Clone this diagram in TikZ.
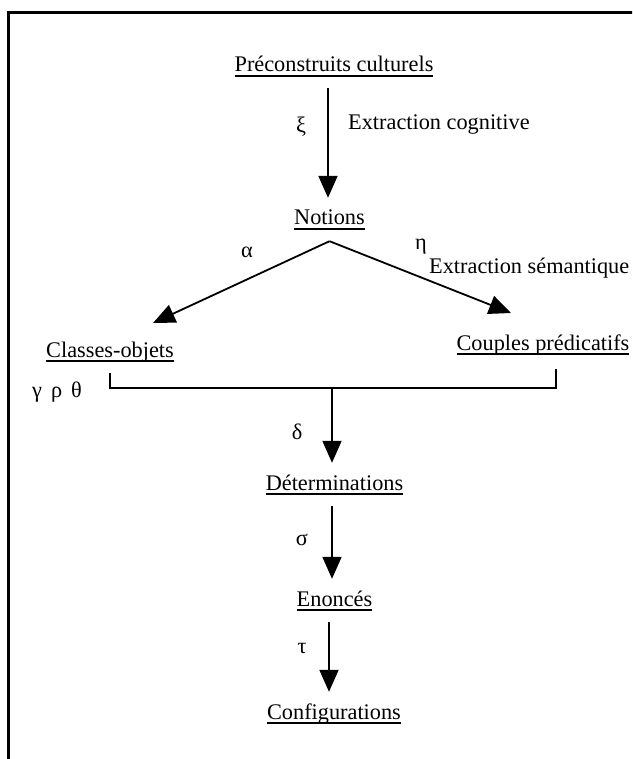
\documentclass[tikz,border=0pt]{standalone}
\usepackage{fontspec}
\setmainfont{Liberation Serif}
\usetikzlibrary{arrows.meta}
% word-processor style underline: a rule a little below the baseline
\newcommand\ulword[1]{\setbox0=\hbox{#1}\rlap{\rule[-4.6pt]{\wd0}{1.9pt}}\box0}

\begin{document}
\begin{tikzpicture}[x=1pt, y=1pt,
  font=\fontsize{22.3}{26}\selectfont,
  concept/.style={anchor=base, inner xsep=0pt, inner ysep=12pt,
                  text height=15pt, text depth=4pt},
  tag/.style={inner sep=0pt},
  arr/.style={line width=1.8pt, -{Triangle[length=22pt,width=19pt]}},
  link/.style={line width=1.7pt}]

\useasboundingbox (0,0) rectangle (632,-759);
\clip (0,0) rectangle (632,-759);

% outer frame (runs past the right and bottom edges)
\draw[line width=2.6pt] (8.5,-12.5) rectangle (700,-820);

% concepts
\node[concept] (pre) at (334,-72)   {\ulword{Préconstruits culturels}};
\node[concept] (nt)  at (329.5,-225) {\ulword{Notions}};
\node[concept] (cls) at (110,-357)  {\ulword{Classes-objets}};
\node[concept] (cpl) at (543,-350)  {\ulword{Couples prédicatifs}};
\node[concept] (det) at (334.5,-490) {\ulword{Déterminations}};
\node[concept] (eno) at (334.5,-606) {\ulword{Enoncés}};
\node[concept] (cfg) at (334,-719)  {\ulword{Configurations}};

% operators and captions
\node[tag] (xi)    at (301,-127) {ξ};
\node[tag, anchor=west] (excog) at (348,-125) {Extraction cognitive};
\node[tag] (al)    at (247,-252) {α};
\node[tag] (et)    at (421,-247) {η};
\node[tag, anchor=west] (exsem) at (429,-268) {Extraction sémantique};
\node[tag] (grt)   at (57,-392)  {γ\hspace{9pt}ρ\hspace{9pt}θ};
\node[tag] (de)    at (297,-432) {δ};
\node[tag] (si)    at (302,-540) {σ};
\node[tag] (ta)    at (302,-648) {τ};

% connector geometry
\coordinate (ax)   at (328,0);
\coordinate (tipL) at (153,-323);
\coordinate (tipR) at (511,-313);
\coordinate (br)   at (556,-369);
\coordinate (bm)   at (332,-388);
\coordinate (bt)   at (329,0);

% connectors
\draw[arr] (pre.south -| ax) -- (nt.north -| ax);
\draw[arr] (nt.south) -- (tipL);
\draw[arr] (nt.south) -- (tipR);
\draw[link] (cls.south) |- (bm) -| (br);
\draw[arr] (bm) -- (det.north -| bm);
\draw[arr] (det.south -| bm) -- (eno.north -| bm);
\draw[arr] (eno.south -| bt) -- (cfg.north -| bt);

\end{tikzpicture}
\end{document}
